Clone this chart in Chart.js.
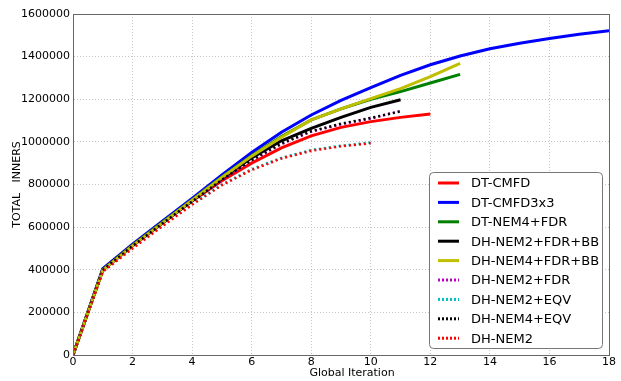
<!DOCTYPE html>
<html lang="en">
  <head>
    <meta charset="UTF-8" />
    <title>Total inners vs global iteration</title>
    <script src="https://cdn.jsdelivr.net/npm/chart.js"></script>
    <style>
      html, body { margin: 0; padding: 0; background: #fff; }
      #wrap { width: 621px; height: 381px; position: relative; }
    </style>
  </head>
  <body>
    <div id="wrap"><canvas id="chart"></canvas></div>

    <script>
      const iterations = [0, 1, 2, 3, 4, 5, 6, 7, 8, 9, 10, 11, 12, 13, 14, 15, 16, 17, 18];
      const xTicks = [0, 2, 4, 6, 8, 10, 12, 14, 16, 18];
      const yTicks = [0, 200000, 400000, 600000, 800000, 1000000, 1200000, 1400000, 1600000];

      const dtCmfd = [0, 398000, 512000, 618000, 722000, 818000, 900000, 972000, 1028000, 1068000, 1095000, 1115000, 1131000];
      const dtCmfd3x3 = [0, 405000, 520000, 628000, 735000, 845000, 950000, 1045000, 1126000, 1195000, 1255000, 1312000, 1362000, 1403000, 1437000, 1463000, 1485000, 1505000, 1522000];
      const dtNem4Fdr = [0, 400000, 515000, 622000, 728000, 835000, 935000, 1025000, 1103000, 1155000, 1200000, 1236000, 1276000, 1317000];
      const dhNem2FdrBb = [0, 400000, 514000, 620000, 725000, 828000, 925000, 1005000, 1063000, 1115000, 1162000, 1198000];
      const dhNem4FdrBb = [0, 398000, 513000, 620000, 726000, 833000, 933000, 1022000, 1103000, 1155000, 1203000, 1250000, 1306000, 1368000];
      const dhNem2Fdr = [0, 396000, 510000, 615000, 718000, 820000, 912000, 990000, 1048000, 1082000, 1110000, 1145000];
      const dhNem2Eqv = [0, 392000, 503000, 607000, 708000, 800000, 872000, 925000, 962000, 982000, 997000];
      const dhNem4Eqv = [0, 398000, 511000, 617000, 720000, 822000, 915000, 992000, 1050000, 1085000, 1112000, 1143000];
      const dhNem2 = [0, 390000, 500000, 604000, 705000, 797000, 868000, 922000, 958000, 979000, 994000];

      const series = [
        { label: "DT-CMFD", values: dtCmfd, color: "#ff0000", dotted: false },
        { label: "DT-CMFD3x3", values: dtCmfd3x3, color: "#0000ff", dotted: false },
        { label: "DT-NEM4+FDR", values: dtNem4Fdr, color: "#008000", dotted: false },
        { label: "DH-NEM2+FDR+BB", values: dhNem2FdrBb, color: "#000000", dotted: false },
        { label: "DH-NEM4+FDR+BB", values: dhNem4FdrBb, color: "#bfbf00", dotted: false },
        { label: "DH-NEM2+FDR", values: dhNem2Fdr, color: "#bf00bf", dotted: true },
        { label: "DH-NEM2+EQV", values: dhNem2Eqv, color: "#00bfbf", dotted: true },
        { label: "DH-NEM4+EQV", values: dhNem4Eqv, color: "#000000", dotted: true },
        { label: "DH-NEM2", values: dhNem2, color: "#ff0000", dotted: true }
      ];

      const font = "'DejaVu Sans', sans-serif";
      const dotDash = [2, 3];

      // legend drawn inside the plot, lower right, like the original
      const insideLegend = {
        id: "insideLegend",
        afterDraw(chart) {
          const ctx = chart.ctx;
          const area = chart.chartArea;
          const sets = chart.data.datasets;
          const w = 173, rowH = 19.4, h = 176;
          const x0 = area.right - 7 - w;
          const y0 = area.bottom - 7 - h;
          ctx.save();
          ctx.beginPath();
          ctx.roundRect(x0 + 0.5, y0 + 0.5, w, h, 4);
          ctx.fillStyle = "#ffffff";
          ctx.fill();
          ctx.strokeStyle = "#777777";
          ctx.lineWidth = 1;
          ctx.stroke();
          ctx.font = "13px " + font;
          ctx.textBaseline = "middle";
          ctx.textAlign = "left";
          sets.forEach((ds, i) => {
            const y = y0 + 11 + i * rowH;
            ctx.beginPath();
            ctx.setLineDash(ds.borderDash.length ? [2, 2] : []);
            ctx.strokeStyle = ds.borderColor;
            ctx.lineWidth = 3;
            ctx.moveTo(x0 + 9, y);
            ctx.lineTo(x0 + 30, y);
            ctx.stroke();
            ctx.setLineDash([]);
            ctx.fillStyle = "#000000";
            ctx.fillText(ds.label, x0 + 42, y + 1);
          });
          ctx.restore();
        }
      };

      // full frame round the plot area, plus the x title (sits a bit right of centre in the original)
      const frame = {
        id: "frame",
        afterDatasetsDraw(chart) {
          const ctx = chart.ctx;
          const a = chart.chartArea;
          ctx.save();
          ctx.strokeStyle = "#666666";
          ctx.lineWidth = 1;
          ctx.strokeRect(a.left + 0.5, a.top + 0.5, a.right - a.left, a.bottom - a.top);
          ctx.font = "11px " + font;
          ctx.fillStyle = "#000";
          ctx.textAlign = "center";
          ctx.textBaseline = "middle";
          ctx.fillText("Global Iteration", (a.left + a.right) / 2 + 11, a.bottom + 18);
          ctx.restore();
        }
      };

      new Chart(document.getElementById("chart"), {
        type: "line",
        data: {
          datasets: series.map((s, i) => ({
            label: s.label,
            data: s.values.map((v, k) => ({ x: iterations[k], y: v })),
            borderColor: s.color,
            backgroundColor: s.color,
            borderWidth: s.dotted ? 2.5 : 3,
            borderDash: s.dotted ? dotDash : [],
            pointRadius: 0,
            tension: 0,
            fill: false,
            order: series.length - i
          }))
        },
        options: {
          responsive: true,
          maintainAspectRatio: false,
          animation: false,
          layout: { padding: { top: 14, right: 12, left: 0, bottom: 0 } },
          plugins: {
            legend: { display: false },
            tooltip: { enabled: false }
          },
          scales: {
            x: {
              type: "linear",
              min: 0,
              max: 18,
              afterBuildTicks: (s) => { s.ticks = xTicks.map((v) => ({ value: v })); },
              afterFit: (s) => { s.height = 26; },
              ticks: { color: "#000", font: { family: font, size: 11 }, padding: 1, maxRotation: 0 },
              grid: { color: "#c4c4c4", drawTicks: false },
              border: { color: "#666666", dash: [1, 2] },
              title: { display: false }
            },
            y: {
              min: 0,
              max: 1600000,
              afterBuildTicks: (s) => { s.ticks = yTicks.map((v) => ({ value: v })); },
              afterFit: (s) => { s.width = 73; },
              ticks: { color: "#000", font: { family: font, size: 11 }, padding: 3, callback: (v) => String(v) },
              grid: { color: "#c4c4c4", drawTicks: false },
              border: { color: "#666666", dash: [1, 2] },
              title: { display: true, text: "TOTAL   INNERS", color: "#000", font: { family: font, size: 11 }, padding: { top: 11, bottom: 0 } }
            }
          }
        },
        plugins: [frame, insideLegend]
      });
    </script>
  </body>
</html>
